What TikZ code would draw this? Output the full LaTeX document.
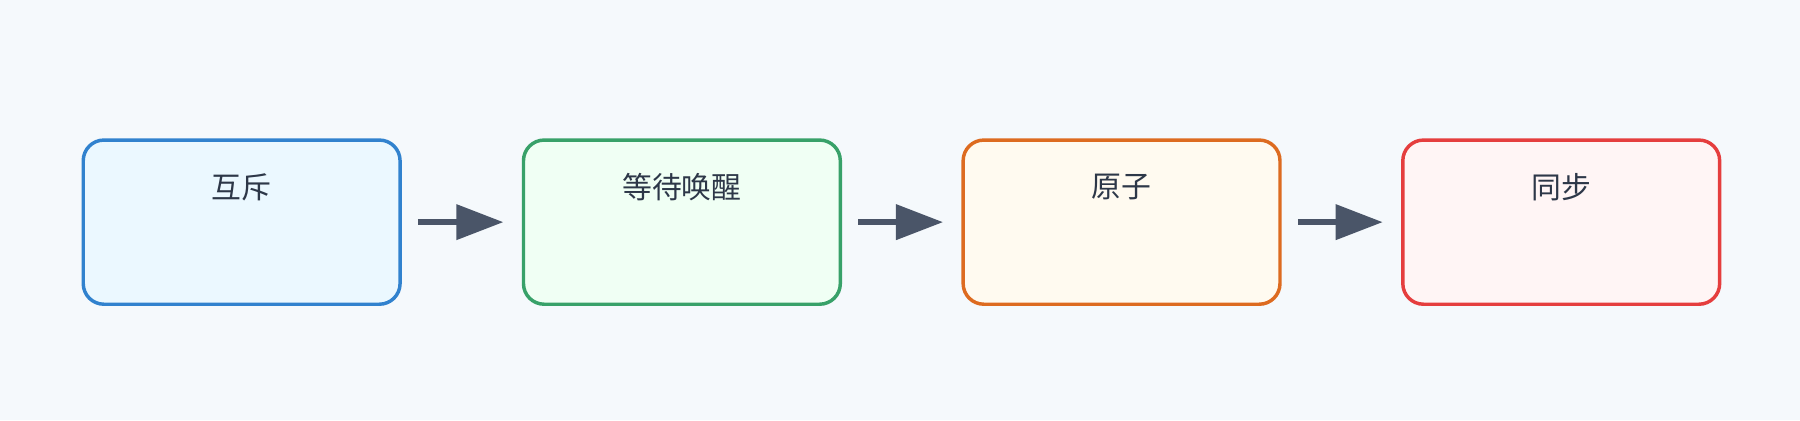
\documentclass[tikz,border=0pt]{standalone}
\usepackage{fontspec}
\newfontfamily\cjk{Noto Sans CJK SC}
\usetikzlibrary{arrows.meta}
\definecolor{bg}{HTML}{F5F9FC}
\definecolor{arr}{HTML}{4A5568}
\definecolor{txt}{HTML}{2D3748}
\definecolor{blueline}{HTML}{3182CE}
\definecolor{bluefill}{HTML}{EBF8FF}
\definecolor{greenline}{HTML}{38A169}
\definecolor{greenfill}{HTML}{F0FFF4}
\definecolor{orangeline}{HTML}{DD6B20}
\definecolor{orangefill}{HTML}{FFFAF0}
\definecolor{redline}{HTML}{E53E3E}
\definecolor{redfill}{HTML}{FFF5F5}
\tikzset{
  box/.style={draw, line width=1.5pt, rounded corners=9pt, minimum width=138pt, minimum height=71.5pt, inner sep=0pt},
  lbl/.style={text=txt, font=\cjk\fontsize{13}{15}\selectfont, inner sep=0pt},
  flow/.style={draw=arr, line width=2.5pt, shorten <=7pt, shorten >=8pt, -{Triangle[length=20.5pt,width=15pt]}}
}
\begin{document}
\begin{tikzpicture}[x=0.5pt,y=-0.5pt]
\fill[bg] (0,0) rectangle (1568,366);
\useasboundingbox (0,0) rectangle (1568,366);

% Boxes
\node[box, draw=blueline, fill=bluefill] (mutex) at (210.5,193.5) {};
\node[box, draw=greenline, fill=greenfill] (wait) at (594,193.5) {};
\node[box, draw=orangeline, fill=orangefill] (atom) at (977,193.5) {};
\node[box, draw=redline, fill=redfill] (sync) at (1360,193.5) {};

% Text Node
\node[lbl] (tmutex) at (210.5,163) {互斥};
\node[lbl] (twait) at (594,163) {等待唤醒};
\node[lbl] (tatom) at (977,163) {原子};
\node[lbl] (tsync) at (1360,163) {同步};

% Arrows
\draw[flow] (mutex.east) -- (wait.west);
\draw[flow] (wait.east) -- (atom.west);
\draw[flow] (atom.east) -- (sync.west);
\end{tikzpicture}
\end{document}
